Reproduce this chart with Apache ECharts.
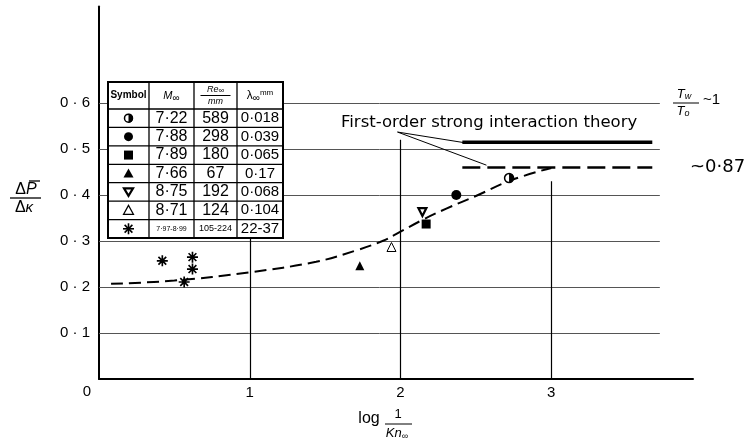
<!DOCTYPE html>
<html><head><meta charset="utf-8">
<script src="https://cdn.jsdelivr.net/npm/echarts@6/dist/echarts.min.js"></script>
<style>html,body{margin:0;padding:0;background:#fff}#c{width:755px;height:442px}</style>
</head><body><div id="c"></div>
<script>
// ---------- data ----------
const xLabels = [1, 2, 3];
const yLabels = [0.1, 0.2, 0.3, 0.4, 0.5, 0.6];
const halfCircle = [[2.72, 0.437]];
const filledCircle = [[2.37, 0.400]];
const filledSquare = [[2.17, 0.337]];
const filledTriangle = [[1.73, 0.246]];
const downTriangle = [[2.145, 0.363]];
const openTriangle = [[1.94, 0.287]];
const stars = [[0.42, 0.257], [0.62, 0.265], [0.62, 0.239], [0.565, 0.211]];
const fitCurve = [[0.08, 0.207], [0.5, 0.214], [1.0, 0.232], [1.44, 0.255], [1.71, 0.280], [1.88, 0.300], [1.97, 0.315], [2.14, 0.345], [2.3, 0.370], [2.5, 0.398], [2.74, 0.433], [3.0, 0.459]];
const theorySolid = [[2.41, 0.515], [3.67, 0.515]];
const theoryDashed = [[2.41, 0.460], [3.67, 0.460]];
const leaderStart = [1.98, 0.537];
const leaderEnds = [[2.44, 0.513], [2.57, 0.465]];
const gridLevels = [0.1, 0.2, 0.3, 0.4, 0.5, 0.6];
const gridEnd = 3.72;
const vLineX = [1, 2, 3];
const vLineTop = [0.31, 0.52, 0.43];
// table
const machNumbers = ['7·22', '7·88', '7·89', '7·66', '8·75', '8·71', '7·97-8·99'];
const reynolds = ['589', '298', '180', '67', '192', '124', '105-224'];
const meanFreePath = ['0·018', '0·039', '0·065', '0·17', '0·068', '0·104', '22-37'];
const theoryLabel = 'First-order strong interaction theory';

// ---------- helpers ----------
const FONT = '"Liberation Sans", Arial, sans-serif';
const DFONT = '"DejaVu Sans", sans-serif';
const starPath = 'M-10,-1.5 L10,-1.5 L10,1.5 L-10,1.5 Z M1.5,-10 L1.5,10 L-1.5,10 L-1.5,-10 Z M-6.01,-8.13 L8.13,6.01 L6.01,8.13 L-8.13,-6.01 Z M8.13,-6.01 L-6.01,8.13 L-8.13,6.01 L6.01,-8.13 Z';

function scatter(data, symbol, size, style, extra) {
  return Object.assign({
    type: 'scatter', data: data, symbol: symbol, symbolSize: size,
    itemStyle: Object.assign({ color: '#000', opacity: 1 }, style || {}),
    z: 10, silent: true
  }, extra || {});
}

// ---------- table graphic ----------
const T = { x0: 108, x1: 283, y0: 82, hy: 109, y1: 238, cols: [108, 149, 194, 237, 283] };
const rowH = (T.y1 - T.hy) / 7;
const g = [];
g.push({ type: 'rect', shape: { x: T.x0, y: T.y0, width: T.x1 - T.x0, height: T.y1 - T.y0 }, style: { fill: '#fff', stroke: '#000', lineWidth: 2 }, z: 100 });
for (let i = 1; i < 4; i++) g.push({ type: 'line', shape: { x1: T.cols[i], y1: T.y0, x2: T.cols[i], y2: T.y1 }, style: { stroke: '#000', lineWidth: 1.3 }, z: 101 });
for (let r = 0; r < 7; r++) { const yy = T.hy + r * rowH; g.push({ type: 'line', shape: { x1: T.x0, y1: yy, x2: T.x1, y2: yy }, style: { stroke: '#000', lineWidth: 1.3 }, z: 101 }); }
function txt(x, y, text, font, extra) {
  return { type: 'text', x: x, y: y, z: 102, style: Object.assign({ text: text, font: font, fill: '#000', align: 'center', verticalAlign: 'middle', textAlign: 'center', textVerticalAlign: 'middle' }, extra || {}) };
}
const cx = [(T.cols[0] + T.cols[1]) / 2, (T.cols[1] + T.cols[2]) / 2, (T.cols[2] + T.cols[3]) / 2, (T.cols[3] + T.cols[4]) / 2];
const hc = (T.y0 + T.hy) / 2;
g.push(txt(cx[0], hc, 'Symbol', 'bold 10px ' + FONT));
g.push(txt(cx[1], hc, '{i|M}{s|∞}', '11px ' + FONT, { rich: { i: { font: 'italic 11px ' + FONT }, s: { font: '10px ' + FONT, padding: [5, 0, 0, 0] } } }));
g.push(txt(cx[2], hc - 6, '{i|Re}{s|∞}', '9px ' + FONT, { rich: { i: { font: 'italic 9px ' + FONT }, s: { font: '8px ' + FONT, padding: [3, 0, 0, 0] } } }));
g.push({ type: 'line', shape: { x1: cx[2] - 15, y1: hc, x2: cx[2] + 15, y2: hc }, style: { stroke: '#000', lineWidth: 1 }, z: 102 });
g.push(txt(cx[2], hc + 6, 'mm', 'italic 9px ' + FONT));
g.push(txt(cx[3], hc, '{a|λ}{s|∞}{u|mm}', '11px ' + FONT, { rich: { a: { font: '12px ' + FONT }, s: { font: '10px ' + FONT, padding: [5, 0, 0, 0] }, u: { font: '8px ' + FONT, padding: [0, 0, 6, 0] } } }));
function starPolys(sx, sy, R, w) {
  const out = [];
  [0, 45, 90, 135].forEach(a => {
    const t = a * Math.PI / 180, c = Math.cos(t), s = Math.sin(t);
    const pts = [[-R, -w], [R, -w], [R, w], [-R, w]].map(p => [sx + p[0] * c - p[1] * s, sy + p[0] * s + p[1] * c]);
    out.push({ type: 'polygon', shape: { points: pts }, style: { fill: '#000' }, z: 102 });
  });
  return out;
}
for (let r = 0; r < 7; r++) {
  const yc = T.hy + (r + 0.5) * rowH;
  const last = r === 6;
  g.push(txt(cx[1], yc, machNumbers[r], (last ? '7px ' : '16px ') + FONT));
  g.push(txt(cx[2], yc, reynolds[r], (last ? '9px ' : '16px ') + FONT));
  g.push(txt(cx[3], yc, meanFreePath[r], '15px ' + FONT));
  const sx = cx[0];
  if (r === 0) {
    g.push({ type: 'circle', shape: { cx: sx, cy: yc, r: 4 }, style: { fill: '#fff', stroke: '#000', lineWidth: 1.5 }, z: 102 });
    g.push({ type: 'sector', shape: { cx: sx, cy: yc, r: 4.5, r0: 0, startAngle: -Math.PI / 2, endAngle: Math.PI / 2 }, style: { fill: '#000' }, z: 103 });
  } else if (r === 1) {
    g.push({ type: 'circle', shape: { cx: sx, cy: yc, r: 4.5 }, style: { fill: '#000' }, z: 102 });
  } else if (r === 2) {
    g.push({ type: 'rect', shape: { x: sx - 4.5, y: yc - 4.5, width: 9, height: 9 }, style: { fill: '#000' }, z: 102 });
  } else if (r === 3) {
    g.push({ type: 'polygon', shape: { points: [[sx, yc - 5], [sx + 5, yc + 4], [sx - 5, yc + 4]] }, style: { fill: '#000' }, z: 102 });
  } else if (r === 4) {
    g.push({ type: 'polygon', shape: { points: [[sx - 4.5, yc - 3.5], [sx + 4.5, yc - 3.5], [sx, yc + 4]] }, style: { fill: '#fff', stroke: '#000', lineWidth: 2.2 }, z: 102 });
  } else if (r === 5) {
    g.push({ type: 'polygon', shape: { points: [[sx, yc - 5], [sx + 5, yc + 4], [sx - 5, yc + 4]] }, style: { fill: '#fff', stroke: '#000', lineWidth: 1.2 }, z: 102 });
  } else {
    starPolys(sx, yc, 5.5, 0.8).forEach(p => g.push(p));
  }
}
// axis "0" label, axis titles, annotations
g.push(txt(87, 392, '0', '15px ' + FONT));
// x title
g.push(txt(369, 419, 'log', '16px ' + FONT));
g.push(txt(398, 414, '1', '13px ' + FONT));
g.push({ type: 'line', shape: { x1: 385, y1: 424, x2: 412, y2: 424 }, style: { stroke: '#000', lineWidth: 1 }, z: 102 });
g.push(txt(397, 433, '{i|Kn}{s|∞}', '13px ' + FONT, { rich: { i: { font: 'italic 13px ' + FONT }, s: { font: '9px ' + FONT, padding: [8, 0, 0, 0] } } }));
// y title
g.push(txt(26, 190, '{d|Δ}{p|P}', '16px ' + FONT, { rich: { d: { font: '16px ' + FONT }, p: { font: 'italic 16px ' + FONT } } }));
g.push({ type: 'line', shape: { x1: 29, y1: 181, x2: 40, y2: 181 }, style: { stroke: '#000', lineWidth: 1.3 }, z: 102 });
g.push({ type: 'line', shape: { x1: 10, y1: 198, x2: 41, y2: 198 }, style: { stroke: '#000', lineWidth: 1.3 }, z: 102 });
g.push(txt(24, 208, '{d|Δ}{p|κ}', '15px ' + FONT, { rich: { d: { font: '16px ' + FONT }, p: { font: 'italic 15px ' + FONT } } }));
// theory label
g.push(txt(341, 123, theoryLabel, '16.5px ' + DFONT, { align: 'left', textAlign: 'left' }));
// right annotations
g.push(txt(684, 94, '{i|T}{s|w}', '13px ' + FONT, { rich: { i: { font: 'italic 13px ' + FONT }, s: { font: 'italic 9px ' + FONT, padding: [5, 0, 0, 0] } } }));
g.push({ type: 'line', shape: { x1: 673, y1: 103, x2: 699, y2: 103 }, style: { stroke: '#000', lineWidth: 1 }, z: 102 });
g.push(txt(683, 111, '{i|T}{s|o}', '13px ' + FONT, { rich: { i: { font: 'italic 13px ' + FONT }, s: { font: 'italic 9px ' + FONT, padding: [5, 0, 0, 0] } } }));
g.push(txt(703, 100, '~1', '15px ' + FONT, { align: 'left', textAlign: 'left' }));
g.push(txt(690, 167, '~0·87', '18px ' + DFONT, { align: 'left', textAlign: 'left' }));

// ---------- chart ----------
const chart = echarts.init(document.getElementById('c'), null, { renderer: 'canvas' });
const gridLineData = gridLevels.map(v => ({ coords: [[0, v], [gridEnd, v]] }));
const vLineData = vLineX.map((x, i) => ({ coords: [[x, 0], [x, vLineTop[i]]] }));
const leaderData = leaderEnds.map(e => ({ coords: [leaderStart, e] }));
chart.setOption({
  animation: false,
  backgroundColor: '#fff',
  grid: { left: 99, top: 6.5, width: 594, height: 372.5, containLabel: false },
  xAxis: {
    type: 'value', min: 0, max: 3.94, interval: 1,
    axisLine: { show: true, lineStyle: { color: '#000', width: 2 } },
    axisTick: { show: false }, splitLine: { show: false },
    axisLabel: { margin: 6, fontSize: 15, fontFamily: FONT, color: '#000',
      formatter: v => (xLabels.indexOf(v) >= 0 ? String(v) : '') }
  },
  yAxis: {
    type: 'value', min: 0, max: 0.81, interval: 0.1,
    axisLine: { show: true, lineStyle: { color: '#000', width: 2 } },
    axisTick: { show: false }, splitLine: { show: false },
    axisLabel: { margin: 9, fontSize: 15, fontFamily: FONT, color: '#000',
      formatter: v => { const r = Math.round(v * 10) / 10; return (r > 0 && r <= 0.6) ? r.toFixed(1).replace('.', ' · ') : ''; } }
  },
  graphic: g,
  series: [
    { type: 'lines', coordinateSystem: 'cartesian2d', data: gridLineData, silent: true, z: 1,
      lineStyle: { color: '#555', width: 1, opacity: 1 } },
    { type: 'lines', coordinateSystem: 'cartesian2d', data: vLineData, silent: true, z: 2,
      lineStyle: { color: '#000', width: 1.2, opacity: 1 } },
    { type: 'lines', coordinateSystem: 'cartesian2d', data: leaderData, silent: true, z: 3,
      lineStyle: { color: '#000', width: 1, opacity: 1 } },
    { type: 'line', data: theorySolid, symbol: 'none', silent: true, z: 4,
      lineStyle: { color: '#000', width: 3.5 } },
    { type: 'line', data: theoryDashed, symbol: 'none', silent: true, z: 4,
      lineStyle: { color: '#000', width: 2.5, type: [18, 7] } },
    { type: 'line', data: fitCurve, symbol: 'none', smooth: 0.4, silent: true, z: 5,
      lineStyle: { color: '#000', width: 2, type: [12, 6] } },
    scatter(halfCircle, 'circle', 9, { color: '#fff', borderColor: '#000', borderWidth: 1.5 }),
    scatter(halfCircle, 'path://M0,0 A10,10 0 0 1 0,20 Z', [4.5, 9], { color: '#000' }, { symbolOffset: [2.25, 0], z: 11 }),
    scatter(filledCircle, 'circle', 10, {}),
    scatter(filledSquare, 'rect', 9, {}),
    scatter(filledTriangle, 'triangle', 9, {}),
    scatter(downTriangle, 'triangle', 8, { color: '#fff', borderColor: '#000', borderWidth: 2.2 }, { symbolRotate: 180 }),
    scatter(openTriangle, 'triangle', 9, { color: '#fff', borderColor: '#000', borderWidth: 1 }),
    scatter(stars, 'path://' + starPath, 11, {})
  ]
});
</script></body></html>
